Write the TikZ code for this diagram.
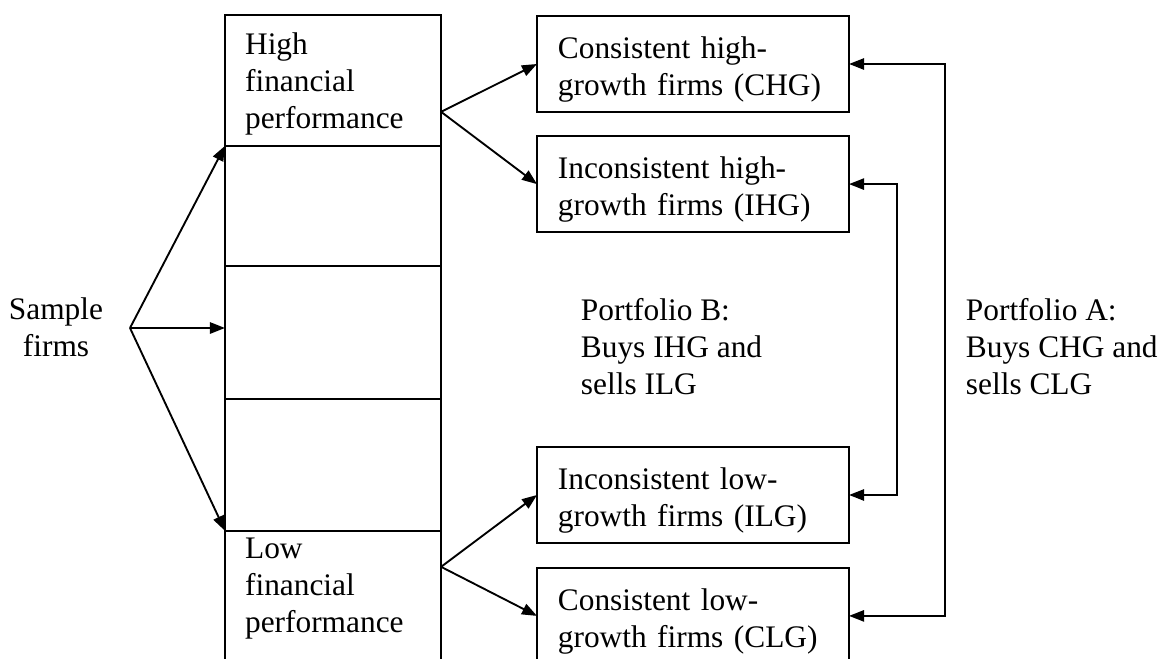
\documentclass[tikz,border=0pt]{standalone}
\usepackage{fontspec}
\setmainfont{Liberation Serif}
\usepackage{tikz}
\usetikzlibrary{arrows.meta,calc,positioning}

\begin{document}
\begin{tikzpicture}[x=0.373pt,y=-0.373pt,line width=0.7pt,
    font=\fontsize{11.7pt}{13.8pt}\selectfont,
    arr/.style={-{Triangle[length=5.6pt,width=4.2pt]}},
    twoarr/.style={{Triangle[length=5.6pt,width=4.2pt]}-{Triangle[length=5.6pt,width=4.2pt]}},
    cell/.style={draw,outer sep=0pt,inner sep=0pt,minimum width=80.6pt},
    celltext/.style={cell,inner xsep=7.5pt,text width=65.6pt,align=left},
    firmbox/.style={draw,outer sep=0pt,inner ysep=0pt,inner xsep=7.8pt,minimum width=116.4pt,
      text width=100.8pt,align=left,text height=15.7pt,text depth=20.1pt},
    plaintext/.style={inner sep=0pt,align=left}]
  \useasboundingbox (0,0) rectangle (1162,659);

  % performance column
  \node[celltext,anchor=north west,text height=14.9pt,text depth=33.9pt] (hi) at (225,15)
    {High\\financial\\performance};
  \node[cell,below=0pt of hi,minimum height=44.8pt] (c2) {};
  \node[cell,below=0pt of c2,minimum height=49.6pt] (c3) {};
  \node[cell,below=0pt of c3,minimum height=49.2pt] (c4) {};
  \node[celltext,below=0pt of c4,text height=10.4pt,text depth=45pt] (lo)
    {Low\\financial\\performance};

  % growth groups
  \node[firmbox,anchor=north west] (chg) at (537,16) {Consistent high-\\growth firms (CHG)};
  \node[firmbox,below=9pt of chg] (ihg) {Inconsistent high-\\growth firms (IHG)};
  \node[firmbox,anchor=north west] (ilg) at (537,447) {Inconsistent low-\\growth firms (ILG)};
  \node[firmbox,below=9.3pt of ilg] (clg) {Consistent low-\\growth firms (CLG)};

  \node[plaintext,align=center,anchor=north] (sample) at (56,297) {Sample\\firms};
  \node[plaintext,anchor=north west] (portB) at (580,297) {Portfolio B:\\Buys IHG and\\sells ILG};
  \node[plaintext,anchor=north west] (portA) at (965,297) {Portfolio A:\\Buys CHG and\\sells CLG};

  \coordinate (fork) at (130,328);
  \coordinate (hiout) at ($(hi.south east)+(0,-34)$);
  \coordinate (loout) at ($(lo.north east)+(0,36)$);

  \draw[arr] (fork) -- (hi.south west);
  \draw[arr] (fork) -- (fork -| c3.west);
  \draw[arr] (fork) -- (lo.north west);
  \draw[arr] (hiout) -- (chg.west);
  \draw[arr] (hiout) -- (ihg.west);
  \draw[arr] (loout) -- (ilg.west);
  \draw[arr] (loout) -- (clg.west);

  % portfolios
  \draw[twoarr] (chg.east) -- ++(96,0) |- (clg.east);
  \draw[twoarr] (ihg.east) -- ++(48,0) |- (ilg.east);
\end{tikzpicture}
\end{document}
